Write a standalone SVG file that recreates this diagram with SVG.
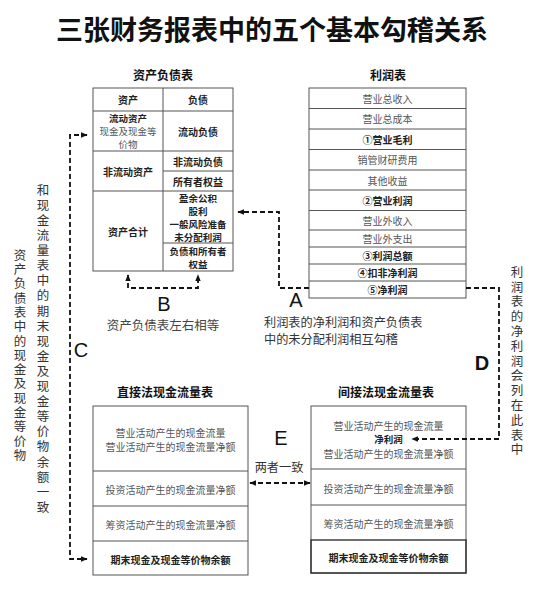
<svg xmlns="http://www.w3.org/2000/svg" width="538" height="590" viewBox="0 0 538 590">
<style>
text{font-family:"Noto Sans CJK SC","Noto Sans",sans-serif;}
.cell{fill:#fff;stroke:#555;stroke-width:1;}
.t{font-size:10px;fill:#555;text-anchor:middle;dominant-baseline:central;}
.b{font-size:10px;fill:#222;font-weight:bold;text-anchor:middle;dominant-baseline:central;}
.m{font-size:9.5px;}
.h{font-size:12px;fill:#111;font-weight:bold;text-anchor:middle;dominant-baseline:central;}
.lab{font-family:"Liberation Sans",Arial,sans-serif;font-size:20px;fill:#111;text-anchor:middle;dominant-baseline:central;}
.note{font-size:12.2px;fill:#333;dominant-baseline:central;}
.v{font-size:12.5px;fill:#333;writing-mode:vertical-rl;text-anchor:start;}
.dash{fill:none;stroke:#111;stroke-width:1.8;stroke-dasharray:5 3;}
</style>
<defs>
<marker id="ah" viewBox="0 0 10 10" refX="9" refY="5" markerWidth="7" markerHeight="7" markerUnits="userSpaceOnUse" orient="auto-start-reverse"><path d="M0,1 L10,5 L0,9 z" fill="#111"/></marker>
</defs>
<rect width="538" height="590" fill="#fff"/>
<text x="272" y="28" style="font-size:27px;font-weight:bold;fill:#111;text-anchor:middle;dominant-baseline:central;">三张财务报表中的五个基本勾稽关系</text>

<g id="balance-sheet">
<text class="h" x="163" y="74">资产负债表</text>
<rect class="cell" x="93" y="88" width="140" height="183"/>
<line class="cell" x1="163" y1="88" x2="163" y2="271"/>
<line class="cell" x1="93" y1="111" x2="233" y2="111"/>
<line class="cell" x1="93" y1="151" x2="233" y2="151"/>
<line class="cell" x1="163" y1="171" x2="233" y2="171"/>
<line class="cell" x1="93" y1="191" x2="233" y2="191"/>
<line class="cell" x1="163" y1="243" x2="233" y2="243"/>
<text class="b" x="128" y="99.5">资产</text>
<text class="b" x="198" y="99.5">负债</text>
<text class="b m" x="128" y="118"><tspan x="128" y="118">流动资产</tspan><tspan x="128" y="131" style="font-weight:normal;fill:#555;">现金及现金等</tspan><tspan x="128" y="144" style="font-weight:normal;fill:#555;">价物</tspan></text>
<text class="b" x="198" y="131">流动负债</text>
<text class="b" x="128" y="171">非流动资产</text>
<text class="b" x="198" y="161">非流动负债</text>
<text class="b" x="198" y="181">所有者权益</text>
<text class="b" x="128" y="231">资产合计</text>
<text class="b m" x="198" y="197.5"><tspan x="198" y="197.5">盈余公积</tspan><tspan x="198" y="210.5">股利</tspan><tspan x="198" y="223.5">一般风险准备</tspan><tspan x="198" y="236.5">未分配利润</tspan></text>
<text class="b m" x="198" y="250.5"><tspan x="198" y="250.5">负债和所有者</tspan><tspan x="198" y="263.5">权益</tspan></text>
</g>

<g id="income-statement">
<text class="h" x="388" y="74">利润表</text>
<rect class="cell" x="309" y="88" width="157" height="210"/>
<line class="cell" x1="309" y1="108.5" x2="466" y2="108.5"/>
<line class="cell" x1="309" y1="129" x2="466" y2="129"/>
<line class="cell" x1="309" y1="149.5" x2="466" y2="149.5"/>
<line class="cell" x1="309" y1="170" x2="466" y2="170"/>
<line class="cell" x1="309" y1="190" x2="466" y2="190"/>
<line class="cell" x1="309" y1="210.5" x2="466" y2="210.5"/>
<line class="cell" x1="309" y1="230" x2="466" y2="230"/>
<line class="cell" x1="309" y1="247" x2="466" y2="247"/>
<line class="cell" x1="309" y1="264" x2="466" y2="264"/>
<line class="cell" x1="309" y1="281" x2="466" y2="281"/>
<text class="t" x="387.5" y="98">营业总收入</text>
<text class="t" x="387.5" y="118.5">营业总成本</text>
<text class="b" x="387.5" y="139">①营业毛利</text>
<text class="t" x="387.5" y="159.5">销管财研费用</text>
<text class="t" x="387.5" y="180">其他收益</text>
<text class="b" x="387.5" y="200">②营业利润</text>
<text class="t" x="387.5" y="220">营业外收入</text>
<text class="t" x="387.5" y="238.5">营业外支出</text>
<text class="b" x="387.5" y="255.5">③利润总额</text>
<text class="b" x="387.5" y="272.5">④扣非净利润</text>
<text class="b" x="387.5" y="289.5">⑤净利润</text>
</g>

<g id="direct-cash-flow">
<text class="h" x="165" y="391">直接法现金流量表</text>
<rect class="cell" x="93" y="406" width="155" height="169"/>
<line class="cell" x1="93" y1="471" x2="248" y2="471"/>
<line class="cell" x1="93" y1="506" x2="248" y2="506"/>
<line class="cell" x1="93" y1="541" x2="248" y2="541"/>
<text class="t" x="170.5" y="432"><tspan x="170.5" y="432">营业活动产生的现金流量</tspan><tspan x="170.5" y="446">营业活动产生的现金流量净额</tspan></text>
<text class="t" x="170.5" y="489">投资活动产生的现金流量净额</text>
<text class="t" x="170.5" y="524">筹资活动产生的现金流量净额</text>
<text class="b" x="170.5" y="559">期末现金及现金等价物余额</text>
</g>

<g id="indirect-cash-flow">
<text class="h" x="386" y="391">间接法现金流量表</text>
<rect class="cell" x="311" y="406" width="155" height="167"/>
<line class="cell" x1="311" y1="469" x2="466" y2="469"/>
<line class="cell" x1="311" y1="505" x2="466" y2="505"/>
<rect x="311" y="540" width="155" height="33" fill="none" stroke="#333" stroke-width="1.4"/>
<text class="t" x="388.5" y="425"><tspan x="388.5" y="425">营业活动产生的现金流量</tspan><tspan x="388.5" y="439" style="font-weight:bold;fill:#222;font-size:9.5px;">净利润</tspan><tspan x="388.5" y="453">营业活动产生的现金流量净额</tspan></text>
<text class="t" x="388.5" y="488">投资活动产生的现金流量净额</text>
<text class="t" x="388.5" y="523">筹资活动产生的现金流量净额</text>
<text class="b" x="388.5" y="557">期末现金及现金等价物余额</text>
</g>

<g id="connectors">
<path class="dash" d="M309,288 H279 V212 H238" marker-end="url(#ah)"/>
<path class="dash" d="M128,275 V288 H198 V275" marker-start="url(#ah)" marker-end="url(#ah)"/>
<path class="dash" d="M87,135 H70 V559 H87" marker-start="url(#ah)" marker-end="url(#ah)"/>
<path class="dash" d="M466,288 H499 V439 H412" marker-end="url(#ah)"/>
<path class="dash" d="M250,483 H310" marker-start="url(#ah)" marker-end="url(#ah)"/>
</g>

<g id="labels">
<text class="lab" x="164" y="304">B</text>
<text class="t" x="163" y="324" style="font-size:12.5px;fill:#444;">资产负债表左右相等</text>
<text class="lab" x="296" y="300">A</text>
<text class="note" x="264" y="321"><tspan x="264" y="321.5">利润表的净利润和资产负债表</tspan><tspan x="264" y="339">中的未分配利润相互勾稽</tspan></text>
<text class="lab" x="81" y="350">C</text>
<text class="lab" x="482" y="363" style="font-weight:bold;">D</text>
<text class="lab" x="281" y="438">E</text>
<text class="note" x="279" y="467" style="text-anchor:middle;">两者一致</text>
<text class="v" x="20" y="248.8" style="letter-spacing:1.8px;">资产负债表中的现金及现金等价物</text>
<text class="v" x="43" y="183.8" style="letter-spacing:2.6px;">和现金流量表中的期末现金及现金等价物余额一致</text>
<text class="v" x="517" y="265.8" style="letter-spacing:2.3px;">利润表的净利润会列在此表中</text>
</g>
</svg>
